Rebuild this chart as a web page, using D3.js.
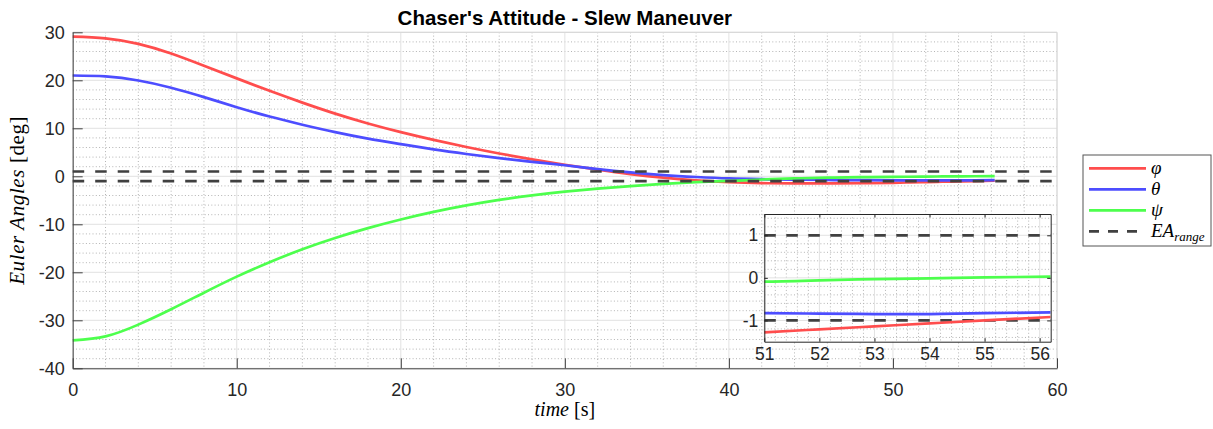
<!DOCTYPE html>
<html>
<head>
<meta charset="utf-8">
<script src="https://cdn.jsdelivr.net/npm/d3@7"></script>
<style>
  body { margin: 0; background: #fff; }
  svg { display: block; }
  .tick text { font-family: "Liberation Sans", Arial, sans-serif; fill: #262626; }
</style>
</head>
<body>
<svg width="1213" height="429"></svg>
<script>
// values
var time  = [0, 2, 4, 6, 8, 10, 12, 14, 16, 18, 20, 22, 24, 26, 28, 30, 32, 34, 36, 38, 40, 42, 44, 46, 48, 50, 51, 52, 53, 54, 55, 56.2];
var phi   = [29.1, 28.75, 27.6, 25.6, 23.05, 20.4, 17.8, 15.35, 13.05, 11.0, 9.2, 7.58, 6.1, 4.75, 3.53, 2.4, 1.38, 0.46, -0.29, -0.84, -1.22, -1.42, -1.49, -1.49, -1.44, -1.35, -1.28, -1.21, -1.14, -1.07, -1.0, -0.92];
var theta = [21.0, 20.8, 19.95, 18.45, 16.5, 14.4, 12.45, 10.75, 9.2, 7.85, 6.7, 5.6, 4.65, 3.8, 3.02, 2.3, 1.5, 0.8, 0.25, -0.15, -0.45, -0.6, -0.7, -0.77, -0.81, -0.83, -0.83, -0.84, -0.85, -0.85, -0.83, -0.81];
var psi   = [-34.2, -33.35, -30.9, -27.7, -24.25, -20.9, -17.9, -15.2, -12.85, -10.8, -9.0, -7.42, -6.07, -4.92, -3.97, -3.2, -2.58, -2.03, -1.58, -1.23, -0.97, -0.67, -0.44, -0.28, -0.18, -0.1, -0.09, -0.06, -0.03, -0.01, 0.01, 0.03];
var eaRange = [1, -1];

var xTicks = [0, 10, 20, 30, 40, 50, 60];
var yTicks = [-40, -30, -20, -10, 0, 10, 20, 30];
var insetXTicks = [51, 52, 53, 54, 55, 56];
var insetYTicks = [-1, 0, 1];

var seriesNames  = ["\u03c6", "\u03b8", "\u03c8"];
var seriesColors = ["#ff4d4d", "#4d4dff", "#4dff4d"];

function init() {
    var svg = d3.select("svg");
    var series = [phi, theta, psi].map(function(v, i) {
        return {name: seriesNames[i], color: seriesColors[i],
                values: v.map(function(d, j) { return {t: time[j], v: d}; })};
    });

    var box = {left: 72.7, right: 1057, top: 32.3, bottom: 368.3};
    var ibox = {left: 764.3, right: 1050.7, top: 214, bottom: 341.7};
    var plain = function(d) { return String(d); };

    var x = d3.scaleLinear().domain([0, 60]).range([box.left, box.right]),
        y = d3.scaleLinear().domain([-40, 30]).range([box.bottom, box.top]);
    var xi = d3.scaleLinear().domain([51, 56.2]).range([ibox.left, ibox.right]),
        yi = d3.scaleLinear().domain([-1.5, 1.5]).range([ibox.bottom, ibox.top]);

    svg.append("defs").append("clipPath").attr("id", "clipInset")
      .append("rect")
        .attr("x", ibox.left).attr("y", ibox.top)
        .attr("width", ibox.right - ibox.left).attr("height", ibox.bottom - ibox.top);

    // draws minor (dotted) and major grid for a set of scales
    function grid(g, xs, ys, xMinor, yMinor, xMajor, yMajor, b) {
        g.selectAll("line.mx").data(xMinor).enter().append("line")
            .attr("x1", xs).attr("x2", xs).attr("y1", b.top).attr("y2", b.bottom)
            .attr("stroke", "#b4b4b4").attr("stroke-dasharray", "1,2.3");
        g.selectAll("line.my").data(yMinor).enter().append("line")
            .attr("y1", ys).attr("y2", ys).attr("x1", b.left).attr("x2", b.right)
            .attr("stroke", "#b4b4b4").attr("stroke-dasharray", "1,2.3");
        g.selectAll("line.gx").data(xMajor).enter().append("line")
            .attr("x1", xs).attr("x2", xs).attr("y1", b.top).attr("y2", b.bottom)
            .attr("stroke", "#e2e2e2");
        g.selectAll("line.gy").data(yMajor).enter().append("line")
            .attr("y1", ys).attr("y2", ys).attr("x1", b.left).attr("x2", b.right)
            .attr("stroke", "#e2e2e2");
    }

    var mainMinorX = d3.range(2, 60, 2).filter(function(d) { return d % 10 !== 0; });
    var mainMinorY = d3.range(-38, 30, 2).filter(function(d) { return d % 10 !== 0; });
    grid(svg.append("g"), x, y, mainMinorX, mainMinorY, xTicks, yTicks, box);

    // light box top/right
    svg.append("path")
        .attr("d", "M" + box.left + "," + box.top + "H" + box.right + "V" + box.bottom)
        .attr("fill", "none").attr("stroke", "#d6d6d6");

    var line = d3.line().curve(d3.curveNatural)
        .x(function(d) { return x(d.t); })
        .y(function(d) { return y(d.v); });

    svg.append("g").selectAll("path").data(series).enter().append("path")
        .attr("d", function(d) { return line(d.values); })
        .attr("fill", "none").attr("stroke", function(d) { return d.color; })
        .attr("stroke-width", 2.7);

    svg.append("g").selectAll("line").data(eaRange).enter().append("line")
        .attr("x1", x(0)).attr("x2", x(60))
        .attr("y1", y).attr("y2", y)
        .attr("stroke", "#404040").attr("stroke-width", 2.7)
        .attr("stroke-dasharray", "11.5,11");

    // main axes, ticks pointing inward
    var gx = svg.append("g").attr("transform", "translate(0," + box.bottom + ")")
        .call(d3.axisBottom(x).tickValues(xTicks).tickFormat(plain).tickSize(-10).tickPadding(15).tickSizeOuter(0));
    var gy = svg.append("g").attr("transform", "translate(" + box.left + ",0)")
        .call(d3.axisLeft(y).tickValues(yTicks).tickFormat(plain).tickSize(-10).tickPadding(8).tickSizeOuter(0));
    [gx, gy].forEach(function(g) {
        g.select(".domain").attr("stroke", "#404040");
        g.selectAll(".tick line").attr("stroke", "#404040");
        g.selectAll(".tick text").style("font-size", "18px");
    });

    // inset
    var inset = svg.append("g");
    inset.append("rect")
        .attr("x", ibox.left).attr("y", ibox.top)
        .attr("width", ibox.right - ibox.left).attr("height", ibox.bottom - ibox.top)
        .attr("fill", "#fff");
    var insetMinorX = d3.range(51.2, 56.2, 0.2).filter(function(d) { return Math.abs(d - Math.round(d)) > 0.01; });
    var insetMinorY = d3.range(-1.4, 1.5, 0.2).filter(function(d) { return Math.abs(d - Math.round(d)) > 0.01; });
    grid(inset.append("g"), xi, yi, insetMinorX, insetMinorY, insetXTicks, insetYTicks, ibox);

    var iline = d3.line().curve(d3.curveNatural)
        .x(function(d) { return xi(d.t); })
        .y(function(d) { return yi(d.v); });
    var ic = inset.append("g").attr("clip-path", "url(#clipInset)");
    ic.selectAll("line").data(eaRange).enter().append("line")
        .attr("x1", ibox.left).attr("x2", ibox.right)
        .attr("y1", yi).attr("y2", yi)
        .attr("stroke", "#404040").attr("stroke-width", 2.7)
        .attr("stroke-dasharray", "11.5,10.5");
    ic.selectAll("path").data(series).enter().append("path")
        .attr("d", function(d) { return iline(d.values); })
        .attr("fill", "none").attr("stroke", function(d) { return d.color; })
        .attr("stroke-width", 2.7);

    var ix = inset.append("g").attr("transform", "translate(0," + ibox.bottom + ")")
        .call(d3.axisBottom(xi).tickValues(insetXTicks).tickFormat(plain).tickSize(-3.5).tickPadding(6).tickSizeOuter(0));
    var iy = inset.append("g").attr("transform", "translate(" + ibox.left + ",0)")
        .call(d3.axisLeft(yi).tickValues(insetYTicks).tickFormat(plain).tickSize(-3.5).tickPadding(6).tickSizeOuter(0));
    var ixt = inset.append("g").attr("transform", "translate(0," + ibox.top + ")")
        .call(d3.axisTop(xi).tickValues(insetXTicks).tickSize(-3.5).tickFormat("").tickSizeOuter(0));
    var iyr = inset.append("g").attr("transform", "translate(" + ibox.right + ",0)")
        .call(d3.axisRight(yi).tickValues(insetYTicks).tickSize(-3.5).tickFormat("").tickSizeOuter(0));
    [ix, iy, ixt, iyr].forEach(function(g) {
        g.select(".domain").attr("stroke", "#262626");
        g.selectAll(".tick line").attr("stroke", "#262626");
        g.selectAll(".tick text").style("font-size", "17.5px");
    });

    // title and labels
    svg.append("text")
        .attr("x", (box.left + box.right) / 2).attr("y", 25)
        .attr("text-anchor", "middle")
        .style("font-family", "Liberation Sans, Arial, sans-serif")
        .style("font-weight", "bold").style("font-size", "20.5px")
        .attr("fill", "#000")
        .text("Chaser's Attitude - Slew Maneuver");

    var xl = svg.append("text")
        .attr("x", (box.left + box.right) / 2).attr("y", 416)
        .attr("text-anchor", "middle")
        .style("font-family", "Liberation Serif, serif").style("font-size", "20px");
    xl.append("tspan").style("font-style", "italic").text("time");
    xl.append("tspan").text(" [s]");

    var yl = svg.append("text")
        .attr("transform", "translate(24," + (box.top + box.bottom) / 2 + ") rotate(-90)")
        .attr("text-anchor", "middle")
        .style("font-family", "Liberation Serif, serif").style("font-size", "21px")
        .style("letter-spacing", "0.6px");
    yl.append("tspan").style("font-style", "italic").text("Euler Angles");
    yl.append("tspan").text(" [deg]");

    // legend
    var leg = svg.append("g").attr("transform", "translate(1083,155)");
    leg.append("rect").attr("width", 128).attr("height", 91)
        .attr("fill", "#fff").attr("stroke", "#555");
    var items = series.map(function(s) { return {name: s.name, color: s.color, dash: null}; });
    items.push({name: "EA", color: "#404040", dash: "10,9"});
    var row = leg.selectAll("g").data(items).enter().append("g")
        .attr("transform", function(d, i) { return "translate(0," + (13.3 + i * 21) + ")"; });
    row.append("line").attr("x1", 6).attr("x2", 63)
        .attr("stroke", function(d) { return d.color; })
        .attr("stroke-width", 2.7)
        .attr("stroke-dasharray", function(d) { return d.dash; });
    var lt = row.append("text").attr("x", 68).attr("y", 6)
        .style("font-family", "Liberation Serif, serif").style("font-size", "19px")
        .style("font-style", "italic");
    lt.append("tspan").text(function(d) { return d.name; });
    lt.filter(function(d) { return d.name === "EA"; }).append("tspan")
        .attr("dy", 4).style("font-size", "13px").text("range");
}
init();
</script>
</body>
</html>
